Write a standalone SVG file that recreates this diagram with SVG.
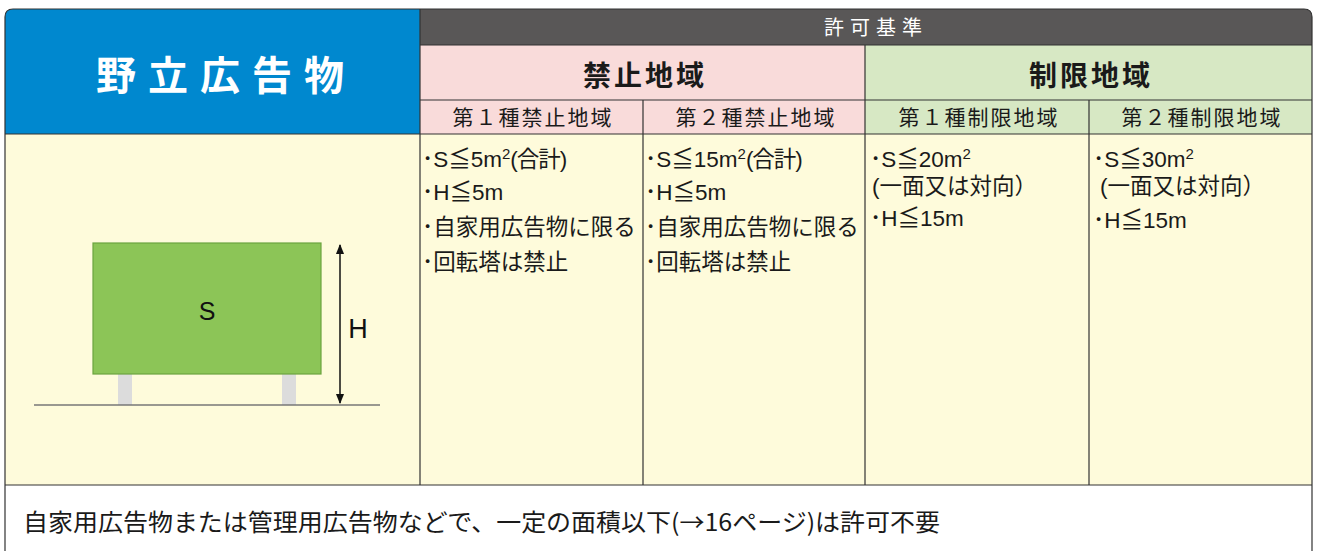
<svg xmlns="http://www.w3.org/2000/svg" width="1317" height="551" viewBox="0 0 1317 551">
<defs>
<style>
.t{font-family:"Noto Sans CJK JP","Noto Sans",sans-serif;fill:#1a1a1a}
.b{font-family:"Liberation Sans","Noto Sans CJK JP",sans-serif;fill:#1a1a1a;font-size:22.5px}
.ln{stroke:#333;stroke-width:1.2;fill:none}
</style>
<marker id="ah" viewBox="0 0 10 10" refX="9" refY="5" markerWidth="7" markerHeight="7" orient="auto-start-reverse"><path d="M0,1 L10,5 L0,9 z" fill="#111"/></marker>
</defs>
<rect width="1317" height="551" fill="#fff"/>
<g id="table">
<path d="M5,560 L5,17 Q5,9 13,9 L1304,9 Q1312,9 1312,17 L1312,560 Z" fill="#fff"/>
<path d="M5,134 L5,17 Q5,9 13,9 L420,9 L420,134 Z" fill="#0088cf"/>
<path d="M420,9 L1304,9 Q1312,9 1312,17 L1312,45 L420,45 Z" fill="#595757"/>
<rect x="420" y="45" width="445" height="89" fill="#f9dbda"/>
<rect x="865" y="45" width="447" height="89" fill="#d7e8c4"/>
<rect x="5" y="134" width="1307" height="351" fill="#fefbdb"/>
<path class="ln" d="M5,551 L5,17 Q5,9 13,9 L1304,9 Q1312,9 1312,17 L1312,551"/>
<path class="ln" d="M420,9 V485 M420,45 H1312 M865,45 V485 M420,100 H1312 M643,100 V485 M1089,100 V485 M5,134 H1312 M5,485 H1312"/>
</g>
<g id="title"><text x="226" y="90" text-anchor="middle" font-family="Noto Sans CJK JP,sans-serif" font-weight="bold" font-size="40" letter-spacing="12" fill="#fff">野立広告物</text></g>
<g id="header"><text x="876" y="35" text-anchor="middle" font-family="Noto Sans CJK JP,sans-serif" font-size="20" letter-spacing="6" fill="#fff">許可基準</text></g>
<g id="kinshi"><text class="t" x="645" y="86" text-anchor="middle" font-size="28" font-weight="bold" letter-spacing="3">禁止地域</text></g>
<g id="seigen"><text class="t" x="1091" y="86" text-anchor="middle" font-size="28" font-weight="bold" letter-spacing="3">制限地域</text></g>
<g id="sub1"><text class="t" x="533" y="125" text-anchor="middle" font-size="21" letter-spacing="2">第１種禁止地域</text></g>
<g id="sub2"><text class="t" x="756" y="125" text-anchor="middle" font-size="21" letter-spacing="2">第２種禁止地域</text></g>
<g id="sub3"><text class="t" x="979" y="125" text-anchor="middle" font-size="21" letter-spacing="2">第１種制限地域</text></g>
<g id="sub4"><text class="t" x="1202" y="125" text-anchor="middle" font-size="21" letter-spacing="2">第２種制限地域</text></g>
<g id="col1">
<text class="b" x="422" y="167">･S≦5m<tspan font-size="15" dy="-8">2</tspan><tspan dy="8" letter-spacing="-1">(合計)</tspan></text>
<text class="b" x="422" y="200">･H≦5m</text>
<text class="b" x="422" y="235">･自家用広告物に限る</text>
<text class="b" x="422" y="270">･回転塔は禁止</text>
</g>
<g id="col2">
<text class="b" x="645" y="167">･S≦15m<tspan font-size="15" dy="-8">2</tspan><tspan dy="8" letter-spacing="-1">(合計)</tspan></text>
<text class="b" x="645" y="200">･H≦5m</text>
<text class="b" x="645" y="235">･自家用広告物に限る</text>
<text class="b" x="645" y="270">･回転塔は禁止</text>
</g>
<g id="col3">
<text class="b" x="870" y="167">･S≦20m<tspan font-size="15" dy="-8">2</tspan></text>
<text class="b" x="872" y="194">(一面又は対向）</text>
<text class="b" x="870" y="226">･H≦15m</text>
</g>
<g id="col4">
<text class="b" x="1093" y="167">･S≦30m<tspan font-size="15" dy="-8">2</tspan></text>
<text class="b" x="1100" y="194">(一面又は対向）</text>
<text class="b" x="1093" y="228">･H≦15m</text>
</g>
<g id="sign">
<rect x="118" y="374" width="14" height="31" fill="#dcdcdc"/>
<rect x="282" y="374" width="14" height="31" fill="#dcdcdc"/>
<rect x="93" y="243" width="228" height="131" fill="#8cc557" stroke="#6ba43f" stroke-width="1.2"/>
<text x="207" y="320" text-anchor="middle" font-family="Liberation Sans,sans-serif" font-size="25" fill="#111">S</text>
<line x1="34" y1="405" x2="380" y2="405" stroke="#777" stroke-width="1.5"/>
</g>
<g id="connectors">
<line x1="340" y1="245" x2="340" y2="403" stroke="#111" stroke-width="1.5" marker-start="url(#ah)" marker-end="url(#ah)"/>
</g>
<g id="hlabel"><text x="358" y="338" text-anchor="middle" font-family="Liberation Sans,sans-serif" font-size="27" fill="#111">H</text></g>
<g id="note"><text x="23" y="531" font-family="Noto Sans CJK JP,sans-serif" font-size="24" textLength="917" lengthAdjust="spacingAndGlyphs" fill="#1a1a1a">自家用広告物または管理用広告物などで、一定の面積以下(→16ページ)は許可不要</text></g>
</svg>
